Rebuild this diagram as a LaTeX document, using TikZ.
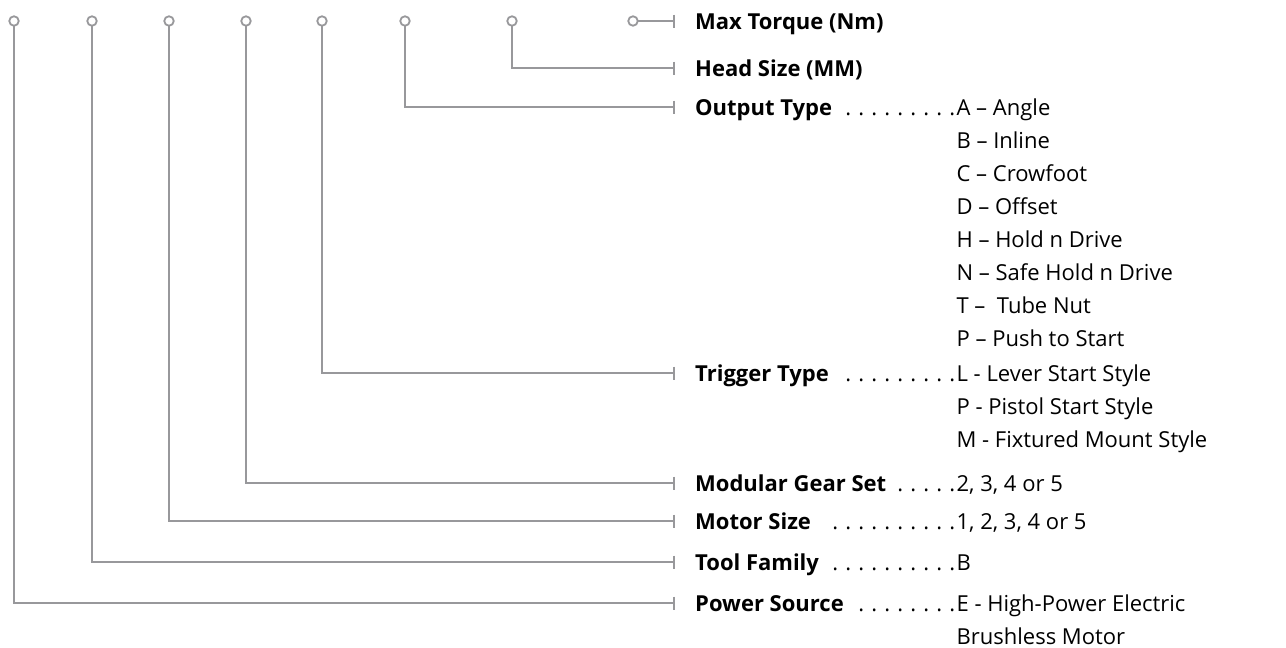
\documentclass[tikz,border=0pt]{standalone}
\usepackage{fontspec}
\setmainfont{Open Sans}
\usetikzlibrary{arrows.meta,positioning}
\definecolor{pingray}{RGB}{152,152,155}
\newcommand\leaderdots{\leavevmode\leaders\hbox to 13pt{\hss.}\hfill\kern0pt}
\newcommand\fieldname[1]{\hbox to 260pt{\bfseries #1\mdseries\leaderdots}}
\newcommand\codelist[1]{\begin{tabular}[t]{@{}l@{}}#1\end{tabular}}

\begin{document}
\begin{tikzpicture}[x=1pt,y=-1pt,
    pin/.style={circle,draw=pingray,line width=1.8pt,fill=white,inner sep=0pt,minimum size=9.5pt},
    lead/.style={draw=pingray,line width=2pt,-{Bar[width=13pt,line width=1.8pt]}},
    field/.style={anchor=base west,inner sep=0pt,font=\fontsize{22}{33}\selectfont\bfseries},
    code/.style={anchor=base west,inner sep=0pt,xshift=1pt,font=\fontsize{22}{33}\selectfont}]
    \useasboundingbox (0,0) rectangle (1286,648);
    \coordinate (tTorque) at (675,21);
    \coordinate (tHead)   at (675,68);
    \coordinate (tOutput) at (675,107);
    \coordinate (tTrigger) at (675,373);
    \coordinate (tGear)   at (675,483);
    \coordinate (tMotor)  at (675,521);
    \coordinate (tFamily) at (675,562);
    \coordinate (tPower)  at (675,603);
    \node[field] (lTorque)  at ([xshift=20pt,yshift=-8pt]tTorque) {Max Torque (Nm)};
    \node[field] (lHead)    at ([xshift=20pt,yshift=-8pt]tHead) {Head Size (MM)};
    \node[field] (lOutput)  at ([xshift=20pt,yshift=-8pt]tOutput) {\fieldname{Output Type}};
    \node[field] (lTrigger) at ([xshift=20pt,yshift=-8pt]tTrigger) {\fieldname{Trigger Type}};
    \node[field] (lGear)    at ([xshift=20pt,yshift=-8pt]tGear) {\fieldname{Modular Gear Set}};
    \node[field] (lMotor)   at ([xshift=20pt,yshift=-8pt]tMotor) {\fieldname{Motor Size }};
    \node[field] (lFamily)  at ([xshift=20pt,yshift=-8pt]tFamily) {\fieldname{Tool Family}};
    \node[field] (lPower)   at ([xshift=20pt,yshift=-8pt]tPower) {\fieldname{Power Source}};
    \node[code] (vOutput)  at (lOutput.base east) {\codelist{A -- Angle\\B -- Inline\\C -- Crowfoot\\D -- Offset\\H -- Hold n Drive\\N -- Safe Hold n Drive\\T --\ \ Tube Nut\\P -- Push to Start}};
    \node[code] (vTrigger) at (lTrigger.base east) {\codelist{L - Lever Start Style\\P - Pistol Start Style\\M - Fixtured Mount Style}};
    \node[code] (vGear)    at (lGear.base east) {2, 3, 4 or 5};
    \node[code] (vMotor)   at (lMotor.base east) {1, 2, 3, 4 or 5};
    \node[code] (vFamily)  at (lFamily.base east) {B};
    \node[code] (vPower)   at (lPower.base east) {\codelist{E - High-Power Electric\\Brushless Motor}};
    \draw[lead] (14,21) |- (tPower);
    \draw[lead] (92,21) |- (tFamily);
    \draw[lead] (169,21) |- (tMotor);
    \draw[lead] (246,21) |- (tGear);
    \draw[lead] (322,21) |- (tTrigger);
    \draw[lead] (405,21) |- (tOutput);
    \draw[lead] (512,21) |- (tHead);
    \draw[lead] (633,21) -- (tTorque);
    \node[pin] (pPower)   at (14,21) {};
    \node[pin] (pFamily)  at (92,21) {};
    \node[pin] (pMotor)   at (169,21) {};
    \node[pin] (pGear)    at (246,21) {};
    \node[pin] (pTrigger) at (322,21) {};
    \node[pin] (pOutput)  at (405,21) {};
    \node[pin] (pHead)    at (512,21) {};
    \node[pin] (pTorque)  at (633,21) {};
\end{tikzpicture}
\end{document}
